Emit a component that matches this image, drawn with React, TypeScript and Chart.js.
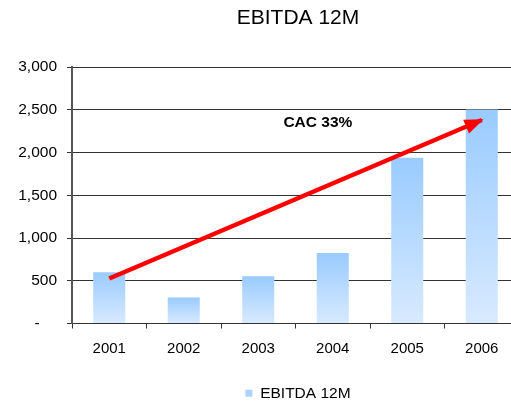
import React, { useEffect, useRef } from "react";
import { Chart, registerables } from "chart.js";

Chart.register(...registerables);

const categories = ["2001", "2002", "2003", "2004", "2005", "2006"];
const ebitdaValues = [600, 305, 554, 824, 1940, 2505];
const trendArrowValues = [527, null, null, null, null, 2382];
const chartTitle = "EBITDA 12M";
const seriesName = "EBITDA 12M";
const trendLabel = "CAC 33%";
const trendLabelIndex = 2.8;
const trendLabelValue = 2350;

const FONT = "'Liberation Sans', Arial, sans-serif";

function barGradient(ctx: CanvasRenderingContext2D, top: number, bottom: number) {
  const g = ctx.createLinearGradient(0, top, 0, bottom);
  g.addColorStop(0, "#99cbff");
  g.addColorStop(1, "#d8eaff");
  return g;
}

const overlayPlugin = {
  id: "overlay",
  afterDatasetsDraw(chart: any) {
    const { ctx } = chart;
    const meta = chart.getDatasetMeta(1);
    const pts = meta.data.filter((p: any) => p && !p.skip && !isNaN(p.y));
    if (pts.length >= 2) {
      const a = pts[0];
      const b = pts[pts.length - 1];
      const dx = b.x - a.x;
      const dy = b.y - a.y;
      const len = Math.hypot(dx, dy);
      const ux = dx / len;
      const uy = dy / len;
      const tipX = b.x + ux * 2;
      const tipY = b.y + uy * 2;
      const headLen = 19;
      const halfW = 7.5;
      const bx = tipX - ux * headLen;
      const by = tipY - uy * headLen;
      ctx.save();
      ctx.fillStyle = "#ff0000";
      ctx.beginPath();
      ctx.moveTo(tipX, tipY);
      ctx.lineTo(bx - uy * halfW, by + ux * halfW);
      ctx.lineTo(bx + uy * halfW, by - ux * halfW);
      ctx.closePath();
      ctx.fill();
      ctx.restore();
    }
    const x = chart.scales.x.getPixelForValue(trendLabelIndex);
    const y = chart.scales.y.getPixelForValue(trendLabelValue);
    ctx.save();
    ctx.font = `bold 15.5px ${FONT}`;
    ctx.fillStyle = "#000";
    ctx.textAlign = "center";
    ctx.textBaseline = "middle";
    ctx.fillText(trendLabel, x, y);
    ctx.restore();
  },
};

export default function App() {
  const canvasRef = useRef<HTMLCanvasElement | null>(null);

  useEffect(() => {
    document.body.style.margin = "0";
    document.body.style.overflow = "hidden";
    const canvas = canvasRef.current!;
    const chart = new Chart(canvas, {
      type: "bar",
      data: {
        labels: categories,
        datasets: [
          {
            type: "bar",
            label: seriesName,
            data: ebitdaValues,
            backgroundColor: (c: any) => {
              const ch = c.chart;
              const ys = ch.scales && ch.scales.y;
              if (!ys || c.type !== "data") return "#aad4ff";
              const top = ys.getPixelForValue(c.raw);
              const bottom = ys.getPixelForValue(0);
              return barGradient(ch.ctx, top, bottom);
            },
            borderWidth: 0,
            barPercentage: 0.43,
            categoryPercentage: 1,
            yAxisID: "y",
            order: 2,
          },
          {
            type: "line",
            label: "trend",
            data: trendArrowValues,
            borderColor: "#ff0000",
            borderWidth: 4.5,
            pointRadius: 0,
            pointHoverRadius: 0,
            spanGaps: true,
            fill: false,
            tension: 0,
            yAxisID: "y",
            order: 1,
          } as any,
        ],
      },
      options: {
        animation: false,
        responsive: false,
        maintainAspectRatio: false,
        layout: { padding: { left: 0, right: 0, top: 0, bottom: -8 } },
        plugins: {
          title: {
            display: true,
            text: chartTitle,
            color: "#000",
            font: { family: FONT, size: 21, weight: "normal" },
            padding: { top: 6, bottom: 36 },
          },
          legend: {
            display: true,
            position: "bottom",
            labels: {
              generateLabels: () => [
                {
                  text: seriesName,
                  fillStyle: "#aad4ff",
                  strokeStyle: "#aad4ff",
                  lineWidth: 0,
                  datasetIndex: 0,
                  hidden: false,
                  fontColor: "#000",
                } as any,
              ],
              boxWidth: 7,
              boxHeight: 7,
              color: "#000",
              font: { family: FONT, size: 15.5 },
              padding: 6,
            },
          },
          tooltip: { enabled: false },
        },
        scales: {
          x: {
            type: "category",
            offset: true,
            grid: {
              display: true,
              offset: true,
              drawOnChartArea: false,
              drawTicks: true,
              tickLength: 5,
              color: "#333",
            },
            border: { display: true, color: "#333", width: 1 },
            ticks: {
              color: "#000",
              font: { family: FONT, size: 15 },
              padding: 11,
              maxRotation: 0,
            },
            afterFit: (s: any) => {
              s.height = 56;
            },
          },
          y: {
            position: "left",
            min: 0,
            max: 3000,
            ticks: {
              stepSize: 500,
              color: "#000",
              font: { family: FONT, size: 15.5 },
              padding: 10,
              callback: (v: any) => (Number(v) === 0 ? "-    " : Number(v).toLocaleString("en-US")),
            },
            grid: {
              color: "#333",
              lineWidth: 1,
              drawTicks: true,
              tickLength: 5,
            },
            border: { display: true, color: "#555", width: 2 },
            afterFit: (s: any) => {
              s.width = 72;
            },
          },
          yRightSpace: {
            type: "linear",
            position: "right",
            display: true,
            grid: { display: false, drawTicks: false },
            border: { display: false },
            ticks: { display: false },
            afterFit: (s: any) => {
              s.width = 77;
            },
          },
        },
      },
      plugins: [overlayPlugin],
    });
    return () => chart.destroy();
  }, []);

  return (
    <div style={{ position: "fixed", left: 0, top: 0, width: 511, height: 403, overflow: "hidden", background: "#fff" }}>
      <canvas ref={canvasRef} width={596} height={403} style={{ width: 596, height: 403, display: "block" }} />
    </div>
  );
}
